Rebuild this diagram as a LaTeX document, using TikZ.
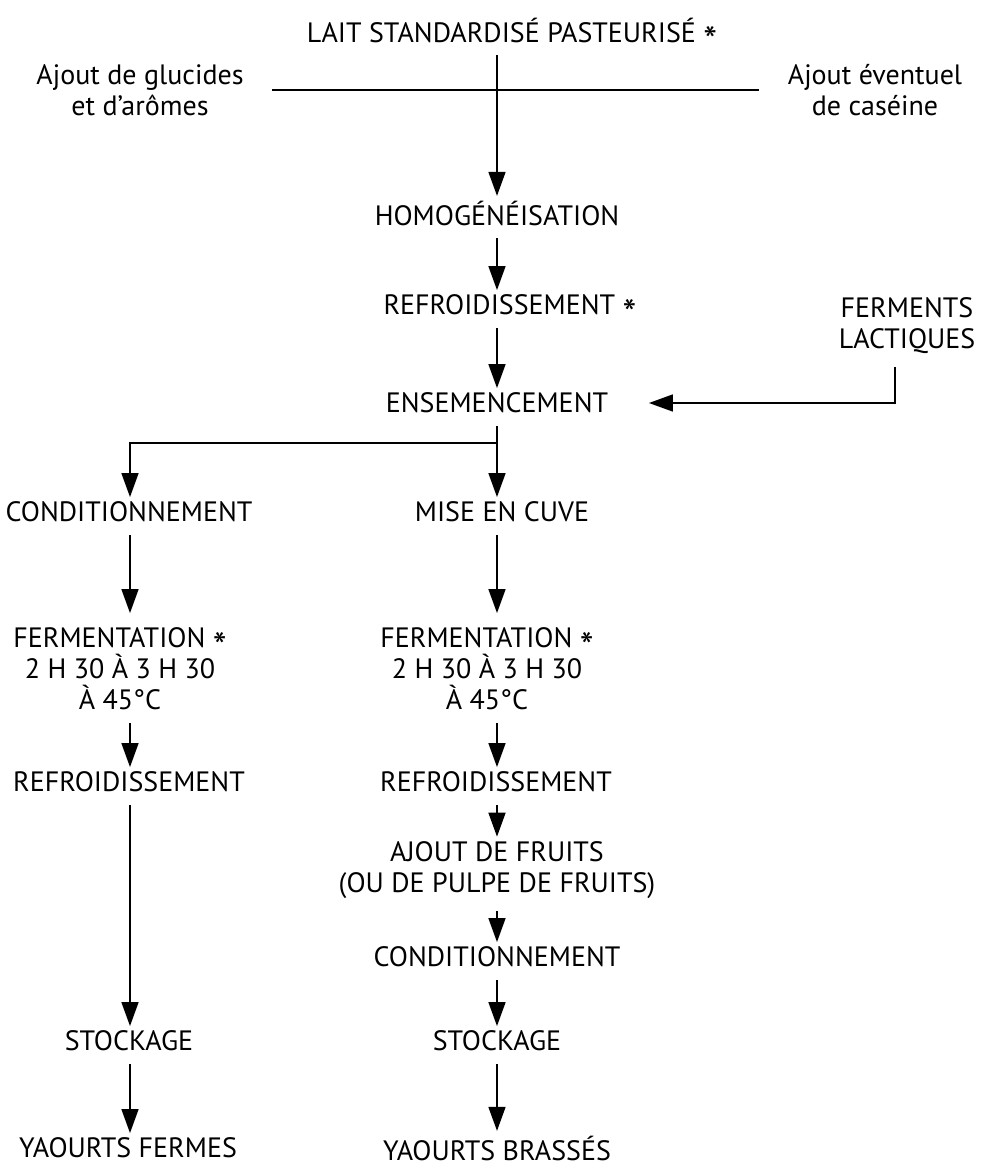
\documentclass[tikz,border=0pt]{standalone}
\usepackage{fontspec}
\setmainfont{PT Sans}
\usetikzlibrary{arrows.meta}
\newcommand{\etoile}{\smash{\raisebox{-0.9ex}{\scalebox{1.4}{*}}}}
\tikzset{%
  etape/.style  = {align=center, inner sep=2pt, font=\fontsize{14}{15.5}\selectfont},%
  fleche/.style = {-{Triangle[length=12pt,width=8.5pt]}, shorten <=4pt},%
  liaison/.style = {shorten <=4pt}%
}

\begin{document}
\begin{tikzpicture}[x=0.5pt,y=-0.5pt,line width=0.8pt,
	every node/.style = {etape}]
	\useasboundingbox[fill=white] (0,0) rectangle (987,1168);
	\coordinate (colL) at (130,0);
	\coordinate (colR) at (497,0);
	\coordinate (colF) at (895,0);
	\coordinate (fourche) at (497,443);

	\node (lait) at (512,30) {LAIT STANDARDISÉ PASTEURISÉ \etoile};
	\node (glucides) at (140,90) {Ajout de glucides\\et d’arômes};
	\node (caseine) at (875,90) {Ajout éventuel\\de caséine};
	\node (homog) at (497,213) {HOMOGÉNÉISATION};
	\node (refroid) at (510,305) {REFROIDISSEMENT \etoile};
	\node (ferments) at (907,326) {FERMENTS\\LACTIQUES};
	\node (ensem) at (497,403) {ENSEMENCEMENT};

	\node (condA) at (129,512) {CONDITIONNEMENT};
	\node (fermA) at (120,669) {FERMENTATION \etoile\\2 H 30 À 3 H 30\\À 45°C};
	\node (refroidA) at (129,782) {REFROIDISSEMENT};
	\node (stockA) at (129,1041) {STOCKAGE};
	\node (yaourtA) at (128,1148) {YAOURTS FERMES};

	\node (cuve) at (502,512) {MISE EN CUVE};
	\node (fermB) at (487,669) {FERMENTATION \etoile\\2 H 30 À 3 H 30\\À 45°C};
	\node (refroidB) at (496,782) {REFROIDISSEMENT};
	\node (fruits) at (497,870) {AJOUT DE FRUITS\\(OU DE PULPE DE FRUITS)};
	\node (condB) at (497,957) {CONDITIONNEMENT};
	\node (stockB) at (497,1041) {STOCKAGE};
	\node (yaourtB) at (497,1148) {YAOURTS BRASSÉS};

	\draw ([xshift=12pt]glucides.east) -- ([xshift=-12pt]caseine.west);
	\draw[fleche] (lait.south -| colR) -- (homog.north -| colR);
	\draw[fleche] (homog.south -| colR) -- (refroid.north -| colR);
	\draw[fleche] (refroid.south -| colR) -- (ensem.north -| colR);
	\draw[fleche] (ferments.south -| colF) |- ([xshift=18pt]ensem.east);

	\draw[liaison] (ensem.south -| colR) -- (fourche);
	\draw[fleche, shorten <=0pt] (fourche) -| (condA.north -| colL);
	\draw[fleche, shorten <=0pt] (fourche) -- (cuve.north -| colR);

	\draw[fleche, shorten >=5pt] (condA.south -| colL) -- (fermA.north -| colL);
	\draw[fleche] (fermA.south -| colL) -- (refroidA.north -| colL);
	\draw[fleche] (refroidA.south -| colL) -- (stockA.north -| colL);
	\draw[fleche] (stockA.south -| colL) -- (yaourtA.north -| colL);

	\draw[fleche, shorten >=5pt] (cuve.south -| colR) -- (fermB.north -| colR);
	\draw[fleche] (fermB.south -| colR) -- (refroidB.north -| colR);
	\draw[fleche] (refroidB.south -| colR) -- (fruits.north -| colR);
	\draw[fleche] (fruits.south -| colR) -- (condB.north -| colR);
	\draw[fleche] (condB.south -| colR) -- (stockB.north -| colR);
	\draw[fleche] (stockB.south -| colR) -- (yaourtB.north -| colR);
\end{tikzpicture}
\end{document}
